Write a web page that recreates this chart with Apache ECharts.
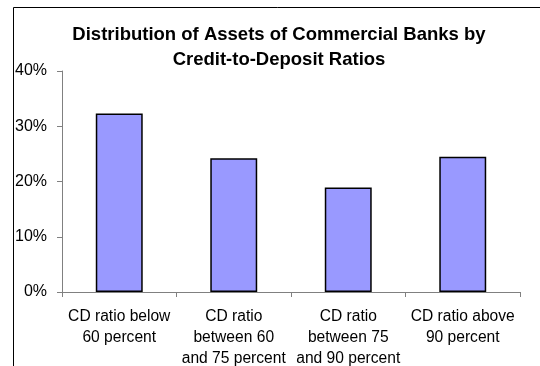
<!DOCTYPE html>
<html>
<head>
<meta charset="utf-8">
<script src="https://cdn.jsdelivr.net/npm/echarts@6/dist/echarts.min.js"></script>
<style>
  html, body { margin: 0; padding: 0; background: #fff; }
  #chart { width: 540px; height: 366px; }
</style>
</head>
<body>
<div id="chart"></div>
<script>
// Share of commercial bank assets by credit-to-deposit ratio band (percent)
const categories = [
  'CD ratio below\n60 percent',
  'CD ratio\nbetween 60\nand 75 percent',
  'CD ratio\nbetween 75\nand 90 percent',
  'CD ratio above\n90 percent'
];
const assetShares = [32.3, 24.2, 18.9, 24.5];
const yTicks = [0, 10, 20, 30, 40];

const chart = echarts.init(document.getElementById('chart'), null, { renderer: 'canvas' });
const font = 'Arial, "Liberation Sans", sans-serif';

chart.setOption({
  animation: false,
  backgroundColor: '#ffffff',
  title: {
    text: 'Distribution of Assets of Commercial Banks by\nCredit-to-Deposit Ratios',
    left: 274,
    top: 17,
    textAlign: 'center',
    textStyle: {
      fontFamily: font,
      fontSize: 18.5,
      fontWeight: 'bold',
      color: '#000',
      lineHeight: 25
    }
  },
  graphic: [{
    type: 'rect',
    shape: { x: 13.5, y: 7.5, width: 600, height: 400 },
    style: { fill: 'none', stroke: '#000', lineWidth: 1 },
    silent: true
  }],
  grid: { left: 62, right: 20, top: 71, bottom: 74, outerBoundsMode: 'none', containLabel: false },
  xAxis: {
    type: 'category',
    data: categories,
    axisLine: { lineStyle: { color: '#808080', width: 1 } },
    axisTick: { show: true, length: 5, lineStyle: { color: '#808080' } },
    axisLabel: {
      interval: 0,
      margin: 14,
      fontFamily: font,
      fontSize: 15.6,
      color: '#000',
      lineHeight: 21
    }
  },
  yAxis: {
    type: 'value',
    min: yTicks[0],
    max: yTicks[yTicks.length - 1],
    interval: 10,
    splitLine: { show: false },
    axisLine: { show: true, lineStyle: { color: '#808080', width: 1 } },
    axisTick: { show: true, length: 5, lineStyle: { color: '#808080' } },
    axisLabel: {
      margin: 15,
      fontFamily: font,
      fontSize: 16,
      color: '#000',
      formatter: v => v + '%'
    }
  },
  series: [{
    type: 'bar',
    data: assetShares,
    barWidth: '41%',
    itemStyle: {
      color: '#9999ff',
      borderColor: '#000',
      borderWidth: 1.5
    }
  }]
});
</script>
</body>
</html>
